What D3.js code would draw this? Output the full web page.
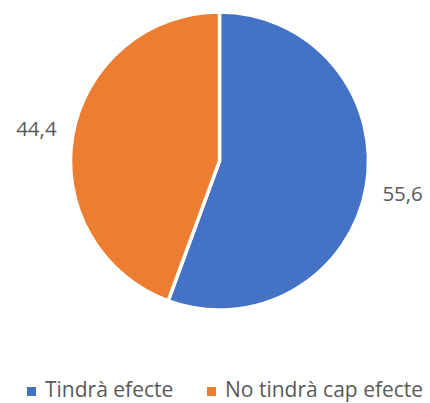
<!DOCTYPE html>
<html>
  <head>
    <meta charset="utf-8" />
    <script src="https://d3js.org/d3.v7.min.js"></script>
    <style>
      body { margin: 0; background: #fff; }
      text { font-family: "Open Sans", sans-serif; fill: #595959; }
    </style>
  </head>
  <body>
    <svg id="chart" width="430" height="403"></svg>
    <script>
      var categories = ["Tindrà efecte", "No tindrà cap efecte"];
      var values = [55.6, 44.4];
      var labels = ["55,6", "44,4"];
      var colors = ["#4472C4", "#ED7D31"];

      var svg = d3.select("#chart"),
        cx = 219.5,
        cy = 161,
        r = 149;

      var data = categories.map(function (c, i) {
        return { name: c, value: values[i], label: labels[i], color: colors[i] };
      });

      var pie = d3.pie().sort(null).value((d) => d.value);
      var arc = d3.arc().innerRadius(0).outerRadius(r);
      var arcs = pie(data);

      var g = svg.append("g").attr("transform", "translate(" + cx + "," + cy + ")");

      g.selectAll("path")
        .data(arcs)
        .enter()
        .append("path")
        .attr("d", arc)
        .attr("fill", (d) => d.data.color)
        .attr("stroke", "#fff")
        .attr("stroke-width", 3.5)
        .attr("stroke-linejoin", "round");

      // data labels placed outside the slices
      var labelArc = d3.arc().innerRadius(r + 37).outerRadius(r + 37);
      g.selectAll("text.lbl")
        .data(arcs)
        .enter()
        .append("text")
        .attr("class", "lbl")
        .attr("x", (d) => labelArc.centroid(d)[0])
        .attr("y", (d) => labelArc.centroid(d)[1])
        .attr("dy", "0.35em")
        .attr("text-anchor", "middle")
        .style("font-size", "20.5px")
        .text((d) => d.data.label);

      // legend
      var legendX = [27, 207];
      var leg = svg.selectAll("g.leg")
        .data(data)
        .enter()
        .append("g")
        .attr("class", "leg")
        .attr("transform", (d, i) => "translate(" + legendX[i] + ",387)");
      leg.append("rect")
        .attr("width", 9)
        .attr("height", 9)
        .attr("fill", (d) => d.color);
      leg.append("text")
        .attr("x", 18)
        .attr("y", 10)
        .style("font-size", "21px")
        .text((d) => d.name);
    </script>
  </body>
</html>
